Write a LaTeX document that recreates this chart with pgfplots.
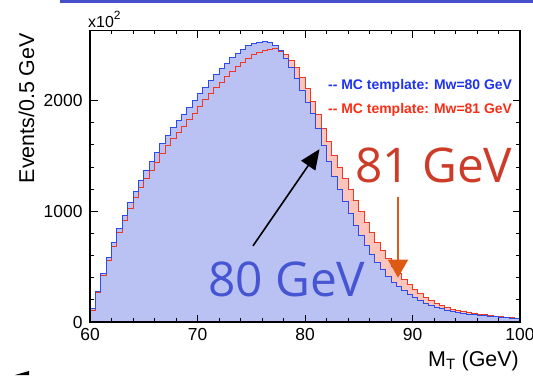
\documentclass[border=0pt]{standalone}
\usepackage{fontspec}
\setmainfont{Liberation Sans}
\newfontfamily\bigfont{Open Sans}
\usepackage{pgfplots}
\usepackage{pgfplotstable}
\pgfplotsset{compat=1.18}
\usetikzlibrary{arrows.meta}
\definecolor{bluefill}{RGB}{186,194,244}
\definecolor{redfill}{RGB}{252,196,186}
\definecolor{blueline}{RGB}{45,75,235}
\definecolor{redline}{RGB}{240,55,35}
\definecolor{legblue}{RGB}{30,50,240}
\definecolor{legred}{RGB}{250,45,20}
\definecolor{bigblue}{RGB}{70,85,210}
\definecolor{bigred}{RGB}{205,60,40}
\definecolor{arrorange}{RGB}{220,90,20}
\definecolor{topbar}{RGB}{70,80,200}

\pgfplotstableread{
x blue red
60.0 120 108
60.5 277 263
61.0 436 416
61.5 581 553
62.0 721 685
62.5 846 804
63.0 964 916
63.5 1078 1024
64.0 1180 1120
64.5 1276 1210
65.0 1364 1292
65.5 1445 1367
66.0 1528 1444
66.5 1610 1520
67.0 1686 1591
67.5 1752 1652
68.0 1815 1711
68.5 1874 1766
69.0 1935 1824
69.5 1995 1881
70.0 2062 1946
70.5 2120 2004
71.0 2178 2062
71.5 2230 2112
72.0 2285 2166
72.5 2335 2216
73.0 2385 2265
73.5 2425 2305
74.0 2463 2345
74.5 2494 2380
75.0 2510 2410
75.5 2525 2435
76.0 2528 2452
76.5 2525 2463
77.0 2494 2465
77.5 2450 2440
78.0 2378 2411
78.5 2295 2356
79.0 2195 2295
79.5 2088 2205
80.0 1983 2105
80.5 1880 1990
81.0 1745 1870
81.5 1590 1745
82.0 1445 1625
82.5 1315 1505
83.0 1200 1395
83.5 1090 1295
84.0 980 1195
84.5 870 1095
85.0 780 995
85.5 690 895
86.0 610 805
86.5 540 722
87.0 470 645
87.5 410 572
88.0 355 505
88.5 318 442
89.0 283 385
89.5 250 335
90.0 220 292
90.5 193 256
91.0 170 223
91.5 151 194
92.0 135 169
92.5 120 148
93.0 107 130
93.5 96 115
94.0 86 102
94.5 78 92
95.0 71 84
95.5 65 77
96.0 60 70
96.5 56 64
97.0 52 58
97.5 48 53
98.0 44 48
98.5 40 43
99.0 35 38
99.5 30 33
100.0 30 33
}\histdata

\begin{document}
\begin{tikzpicture}[x=1bp,y=1bp]
\path[use as bounding box] (0,0) rectangle (533,375);
\clip (0,0) rectangle (533,375);
\fill[topbar] (60,372.3) rectangle (533,375);
\fill[black] (15,0) -- (29,4) -- (29,0) -- cycle;
\begin{axis}[
  at={(90bp,53bp)}, anchor=south west,
  scale only axis, width=430bp, height=291.4bp,
  xmin=60, xmax=100, ymin=0, ymax=2630,
  xtick={60,70,80,90,100}, ytick={0,1000,2000},
  minor x tick num=4, minor y tick num=4,
  tick align=inside, tick pos=both,
  major tick length=7.5bp, minor tick length=3.8bp,
  axis line style={line width=1.1bp},
  every tick/.style={black, line width=0.7bp},
  tick label style={font=\fontsize{17.5}{17.5}\selectfont},
  /pgf/number format/assume math mode=true,
  /pgf/number format/1000 sep={},
  scaled y ticks=false,
  xticklabel style={yshift=-3bp},
  yticklabel style={xshift=-4bp},
  axis on top,
]
\addplot[const plot, fill=redfill, draw=none] table[x=x,y=red]{\histdata} \closedcycle;
\addplot[const plot, fill=bluefill, draw=none] table[x=x,y=blue]{\histdata} \closedcycle;
\addplot[const plot, draw=redline, line width=1bp] table[x=x,y=red]{\histdata} \closedcycle;
\addplot[const plot, draw=blueline, line width=1bp] table[x=x,y=blue]{\histdata} \closedcycle;

\node[anchor=west, inner sep=0, text=legblue, font=\bfseries\fontsize{14}{14}\selectfont] at (axis cs:82.14,2132) {-{}- MC template: Mw=80 GeV};
\node[anchor=west, inner sep=0, text=legred, font=\bfseries\fontsize{14}{14}\selectfont] at (axis cs:82.14,1915) {-{}- MC template: Mw=81 GeV};

\node[anchor=base west, inner sep=0, text=bigred, font=\bigfont\fontsize{48}{48}\selectfont] at (axis cs:84.65,1256) {81 GeV};
\node[anchor=base west, inner sep=0, text=bigblue, font=\bigfont\fontsize{48}{48}\selectfont] at (axis cs:70.98,226) {80 GeV};

\draw[black, line width=1.6bp, -{Triangle[length=20bp,width=17bp]}] (axis cs:75.16,687) -- (axis cs:81.35,1560);
\draw[arrorange, line width=1.6bp, -{Triangle[length=18bp,width=20bp]}] (axis cs:88.65,1129) -- (axis cs:88.65,400);
\end{axis}
\node[anchor=base west, inner sep=0, font=\fontsize{16}{16}\selectfont] at (88,348) {x10\raisebox{0.45em}{\fontsize{12}{12}\selectfont 2}};
\node[rotate=90, anchor=base east, inner sep=0, font=\fontsize{21.5}{21.5}\selectfont] at (34,342) {Events/0.5 GeV};
\node[anchor=base east, inner sep=0, font=\fontsize{21.5}{21.5}\selectfont] at (519,9) {M\textsubscript{T} (GeV)};
\end{tikzpicture}
\end{document}
